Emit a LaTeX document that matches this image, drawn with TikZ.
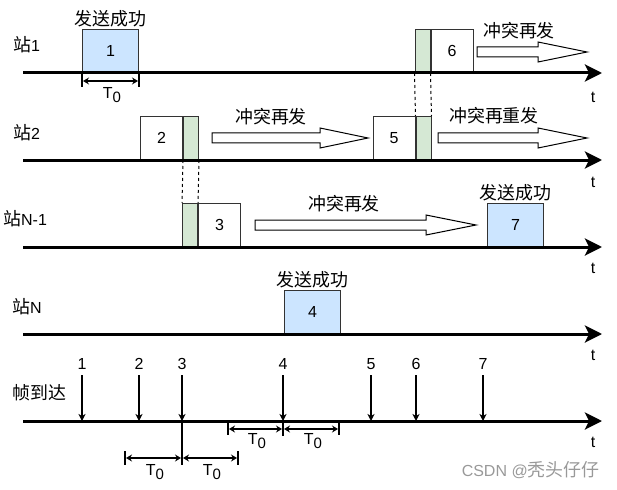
\documentclass[tikz,border=0pt]{standalone}
\usepackage{fontspec}
\setmainfont{Liberation Sans}
\newfontfamily\cjk[Scale=1.12]{Noto Sans CJK SC}
\usetikzlibrary{arrows.meta,positioning}
\definecolor{okblue}{HTML}{CCE5FF}
\definecolor{jamgreen}{HTML}{D5E8D4}
\newcommand\Tzero{T\raisebox{-4pt}{\fontsize{15}{15}\selectfont 0}}

\begin{document}
\begin{tikzpicture}[x=1pt,y=-1pt,font=\fontsize{16}{19}\selectfont,
  timeline/.style={line width=3pt,-{Stealth[length=17pt,width=17pt,inset=4pt]}},
  frame/.style={draw=black!80,line width=1pt,minimum width=42pt,minimum height=43pt,inner sep=0pt,anchor=south west},
  okframe/.style={frame,fill=okblue,minimum width=56pt},
  jam/.style={frame,fill=jamgreen,minimum width=15pt},
  retry/.style={draw,line width=1pt,fill=white},
  drop/.style={line width=1.2pt,shorten <=2pt,-{Stealth[length=7pt,width=7pt,inset=2pt]}},
  span/.style={line width=1.2pt,shorten <=1pt,shorten >=1pt,{Stealth[length=6pt,width=7pt,inset=2pt]}-{Stealth[length=6pt,width=7pt,inset=2pt]}},
  tick/.style={line width=1.2pt},
  link/.style={line width=1pt,dashed},
  station/.style={inner sep=0pt,anchor=west},
  cn/.style={font=\fontsize{16}{19}\selectfont\cjk},
  wmark/.style={text=black!40,font=\fontsize{16}{19}\selectfont}]
\useasboundingbox (0,0) rectangle (617,489);

\node[station] (st1) at (13,45) {{\cjk 站}1};
\node[station] (st2) at (13,133) {{\cjk 站}2};
\node[station] (st3) at (3,219) {{\cjk 站}N-1};
\node[station] (st4) at (12,307) {{\cjk 站}N};
\node[station,cn] (st5) at (12,393) {帧到达};

\node[okframe] (f1) at (82,73) {1};
\node[frame] (f2) at (140,160) {2};
\node[jam,right=0pt of f2] (g2) {};
\node[jam] (g3) at (182,247) {};
\node[frame,right=0pt of g3] (f3) {3};
\node[okframe] (f4) at (284,334) {4};
\node[frame] (f5) at (372.5,160) {5};
\node[jam,right=0pt of f5] (g5) {};
\node[jam] (g6) at (414.5,73) {};
\node[frame,right=0pt of g6] (f6) {6};
\node[okframe] (f7) at (487,247) {7};

\node[cn,above=-2pt of f1] (ok1) {发送成功};
\node[cn,above=-2pt of f4] (ok4) {发送成功};
\node[cn,above=-2pt of f7] (ok7) {发送成功};

\draw[link] (g2.south west) -- (g3.north west);
\draw[link] (g2.south east) -- (g3.north east);
\draw[link] (g6.south west) -- (g5.north west);
\draw[link] (g6.south east) -- (g5.north east);

\draw[retry] (477,47) -- ++(61,0) -- ++(0,-5) -- ++(49,10) -- ++(-49,10) -- ++(0,-5) -- ++(-61,0) -- cycle;
\draw[retry] (212,133) -- ++(108,0) -- ++(0,-5) -- ++(48,10) -- ++(-48,10) -- ++(0,-5) -- ++(-108,0) -- cycle;
\draw[retry] (438,133) -- ++(100,0) -- ++(0,-5) -- ++(49,10) -- ++(-49,10) -- ++(0,-5) -- ++(-100,0) -- cycle;
\draw[retry] (255,220) -- ++(171,0) -- ++(0,-5) -- ++(50,10) -- ++(-50,10) -- ++(0,-5) -- ++(-171,0) -- cycle;
\node[cn] (re1) at (519,31) {冲突再发};
\node[cn] (re2) at (271,117) {冲突再发};
\node[cn] (re3) at (494,116) {冲突再重发};
\node[cn] (re4) at (344,204) {冲突再发};

\foreach \k/\y in {1/73,2/160,3/247,4/334,5/421}{
  \coordinate (L\k) at (23,\y);
  \coordinate (R\k) at (602,\y);
  \draw[timeline] (L\k) -- (R\k);
}
\foreach \k/\y in {1/97,2/182,3/268,4/355,5/442}
  \node (t\k) at (593,\y) {t};

\foreach \k/\x in {1/82,2/139,3/182,4/283,5/371,6/416,7/483}{
  \node (n\k) at (\x,364) {\k};
  \coordinate (h\k) at (\x,421);
  \draw[drop] (n\k) -- (h\k);
}

\draw[tick] (f1.south west) -- ++(0,14);
\draw[tick] (f1.south east) -- ++(0,14);
\draw[span] ([yshift=-8pt]f1.south west) -- ([yshift=-8pt]f1.south east);
\node (w1) at (112,95) {\Tzero};

\coordinate (q0) at (125,458);
\coordinate (q1) at (182,458);
\coordinate (q2) at (238,458);
\coordinate (u0) at (228,429);
\coordinate (u1) at (283,429);
\coordinate (u2) at (339,429);
\draw[tick] (h3) -- ++(0,44);
\draw[tick] (h4) -- ++(0,15);
\draw[tick] (u0) ++(0,-8) -- ++(0,14);
\draw[tick] (u2) ++(0,-8) -- ++(0,14);
\draw[tick] (q0) ++(0,-7) -- ++(0,14);
\draw[tick] (q2) ++(0,-7) -- ++(0,14);
\draw[span] (q0) -- (q1);
\draw[span] (q1) -- (q2);
\draw[span] (u0) -- (u1);
\draw[span] (u1) -- (u2);
\node (w2) at (155,472) {\Tzero};
\node (w3) at (212,472) {\Tzero};
\node (w4) at (257,441) {\Tzero};
\node (w5) at (313,441) {\Tzero};

\node[wmark,anchor=east] (wm) at (603,470) {CSDN @{\cjk 秃头仔仔}};
\end{tikzpicture}
\end{document}
